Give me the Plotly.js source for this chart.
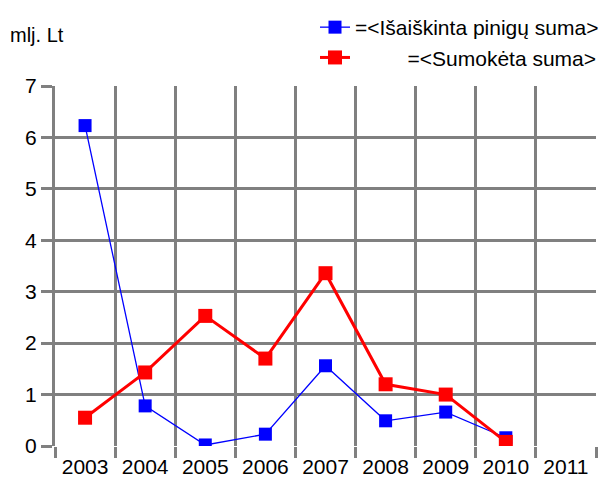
<!DOCTYPE html>
<html>
<head>
<meta charset="utf-8">
<script src="https://cdn.plot.ly/plotly-3.0.1.min.js"></script>
<style>html,body{margin:0;padding:0;background:#fff;}#chart{width:602px;height:481px;}</style>
</head>
<body>
<div id="chart"></div>
<script>
var years = ["2003","2004","2005","2006","2007","2008","2009","2010","2011"];
var isaiskinta = [6.23, 0.78, 0.02, 0.23, 1.56, 0.49, 0.66, 0.16, null];
var sumoketa = [0.55, 1.43, 2.53, 1.70, 3.36, 1.20, 1.00, 0.08, null];
var seriesNames = ["=<Išaiškinta pinigų suma>", "\u00a0".repeat(9) + "=<Sumokėta suma>"];
var yTicks = [0,1,2,3,4,5,6,7];

var grid = '#808080';
var traces = [
  {x: years, y: isaiskinta, name: seriesNames[0], type: 'scatter', mode: 'lines+markers',
   line: {color: '#0000ff', width: 1.3}, marker: {symbol: 'square', size: 13, color: '#0000ff'},
   legendgroup: 'a'},
  {x: years, y: sumoketa, name: seriesNames[1], type: 'scatter', mode: 'lines+markers',
   line: {color: '#ff0000', width: 3}, marker: {symbol: 'square', size: 14, color: '#ff0000'},
   legendgroup: 'b'}
];
var layout = {
  width: 602, height: 481,
  margin: {l: 55, r: 6, t: 86, b: 35, autoexpand: false},
  paper_bgcolor: '#fff', plot_bgcolor: '#fff',
  font: {family: 'Liberation Sans, Arial, sans-serif', color: '#000', size: 21},
  showlegend: true,
  legend: {xref: 'paper', orientation: 'v', traceorder: 'grouped', tracegroupgap: 0,
           font: {size: 21}, bgcolor: 'rgba(0,0,0,0)', xanchor: 'left', yanchor: 'top'},
  xaxis: {type: 'category', tickson: 'boundaries', showgrid: true, gridcolor: grid, gridwidth: 3,
          ticks: 'outside', ticklen: 11, tickwidth: 3, tickcolor: grid, ticklabelstandoff: 6,
          showline: false, zeroline: false, range: [-0.5, 8.5], fixedrange: true},
  yaxis: {range: [0, 7], tickvals: yTicks, showgrid: true, gridcolor: grid, gridwidth: 3,
          ticks: 'outside', ticklen: 11, tickwidth: 3, tickcolor: grid,
          showline: true, linecolor: grid, linewidth: 3, zeroline: false, fixedrange: true},
  annotations: [
    {text: 'mlj. Lt', xref: 'paper', yref: 'paper', x: (8 - 55) / 541, y: (481 - 35 - 35) / 360,
     xanchor: 'left', yanchor: 'middle', showarrow: false, font: {size: 20}}
  ]
};
layout.legend.x = (315 - 55) / 541;
layout.legend.y = 1 + (86 - 7) / 360;
Plotly.newPlot('chart', traces, layout, {displayModeBar: false, staticPlot: true});
</script>
</body>
</html>
